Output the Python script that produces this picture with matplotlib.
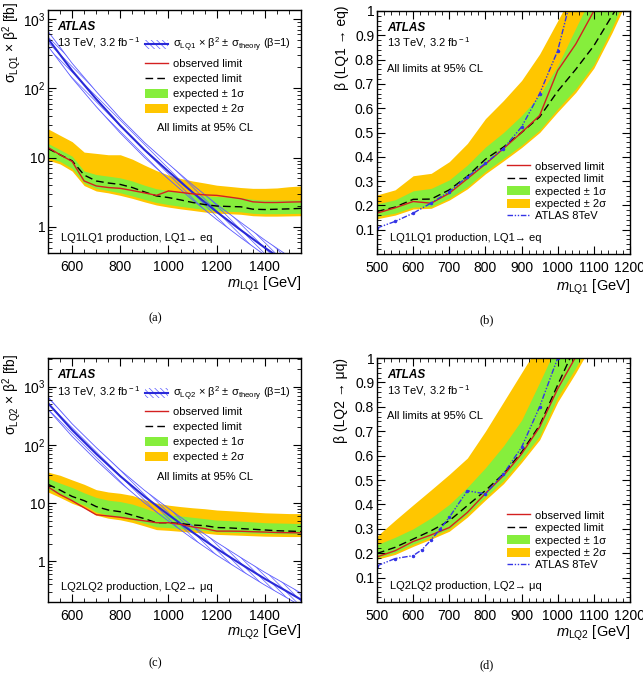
import matplotlib
matplotlib.use('Agg')
from matplotlib import pyplot as plt
from matplotlib.patches import Patch
from matplotlib.lines import Line2D
from matplotlib.ticker import FixedLocator, FixedFormatter, MultipleLocator, NullFormatter

# ---- data: LQ pair production limits (ATLAS 13 TeV, 3.2 fb-1) ----
m_xs = [500, 550, 600, 650, 700, 750, 800, 850, 900, 950, 1000, 1050,
        1100, 1150, 1200, 1250, 1300, 1350, 1400, 1450, 1500, 1550]

# theory cross section (fb), same for LQ1 and LQ2
m_th = [500, 600, 700, 800, 900, 1000, 1100, 1200, 1300, 1400, 1500, 1550]
xs_th = [520, 180, 70, 29, 13, 6.3, 3.15, 1.65, 0.9, 0.5, 0.29, 0.22]
xs_th_up = [665, 230, 90, 37, 16.6, 8.1, 4.05, 2.12, 1.16, 0.645, 0.375, 0.285]
xs_th_dn = [405, 140, 54.5, 22.6, 10.1, 4.9, 2.45, 1.28, 0.7, 0.39, 0.225, 0.17]

# (a) LQ1 -> eq
a_obs = [14, 11, 8.8, 4.6, 3.9, 3.7, 3.6, 3.35, 3.1, 2.85, 3.3, 3.15,
         3.0, 2.9, 2.85, 2.7, 2.55, 2.3, 2.25, 2.25, 2.28, 2.3]
a_exp = [13.5, 11, 9.0, 5.6, 4.6, 4.3, 4.1, 3.7, 3.2, 2.8, 2.65, 2.45,
         2.25, 2.1, 2.0, 1.97, 1.95, 1.8, 1.78, 1.8, 1.82, 1.85]
a_p1 = [16, 13, 10.5, 6.4, 5.7, 5.4, 5.1, 4.6, 4.0, 3.55, 3.35, 3.15,
        2.95, 2.8, 2.75, 2.7, 2.65, 2.5, 2.45, 2.45, 2.45, 2.45]
a_p2 = [26, 21, 17, 12, 11.5, 11, 11, 9.5, 7.8, 6.5, 5.6, 5.0,
        4.6, 4.3, 4.0, 3.85, 3.7, 3.6, 3.6, 3.65, 3.8, 3.9]
a_m1 = [10, 8.8, 7.0, 4.3, 3.6, 3.35, 3.1, 2.8, 2.5, 2.25, 2.1, 1.98,
        1.88, 1.78, 1.72, 1.68, 1.65, 1.57, 1.55, 1.55, 1.56, 1.57]
a_m2 = [9.2, 8.1, 6.4, 3.95, 3.3, 3.1, 2.85, 2.58, 2.3, 2.07, 1.93, 1.82,
        1.73, 1.64, 1.58, 1.55, 1.52, 1.45, 1.43, 1.43, 1.44, 1.45]

# (c) LQ2 -> muq
c_obs = [19, 14, 11, 8.3, 6.3, 6.0, 5.7, 5.3, 4.95, 4.6, 4.6, 4.3,
         3.9, 3.65, 3.3, 3.3, 3.28, 3.22, 3.18, 3.12, 3.1, 3.08]
c_exp = [21, 16.7, 13, 11, 8.7, 7.6, 7.1, 6.2, 5.4, 4.6, 4.6, 4.45,
         4.2, 4.1, 3.8, 3.75, 3.65, 3.55, 3.45, 3.35, 3.3, 3.25]
c_p1 = [26.5, 22, 18.5, 15, 12.5, 11.2, 10.6, 9.6, 8.2, 6.9, 6.3, 6.0,
        5.7, 5.4, 5.1, 5.0, 4.9, 4.75, 4.6, 4.55, 4.5, 4.45]
c_p2 = [34, 30, 25, 21, 17, 15.5, 14.7, 13.5, 11.5, 10, 9.2, 8.7,
        8.3, 8.0, 7.6, 7.4, 7.2, 7.0, 6.8, 6.7, 6.6, 6.6]
c_m1 = [17.5, 14, 11, 9.2, 7.0, 6.2, 5.8, 5.2, 4.5, 3.9, 3.8, 3.65,
        3.5, 3.4, 3.2, 3.15, 3.1, 3.05, 3.0, 2.97, 2.95, 2.95]
c_m2 = [15.5, 12.5, 9.9, 8.3, 6.2, 5.5, 5.15, 4.65, 4.05, 3.5, 3.4, 3.27,
        3.15, 3.05, 2.9, 2.85, 2.8, 2.75, 2.7, 2.68, 2.66, 2.66]

# (b) beta limits LQ1
m_beta = [500, 550, 600, 650, 700, 750, 800, 850, 900, 950, 1000, 1050, 1100, 1150, 1200]
b_obs = [0.168, 0.19, 0.216, 0.209, 0.25, 0.31, 0.37, 0.434, 0.50, 0.57, 0.755, 0.864, 1.0, 1.12, 1.25]
b_exp = [0.175, 0.193, 0.225, 0.226, 0.264, 0.32, 0.39, 0.44, 0.50, 0.564, 0.67, 0.76, 0.857, 0.98, 1.1]
b_p1 = [0.206, 0.223, 0.26, 0.27, 0.305, 0.366, 0.44, 0.50, 0.57, 0.653, 0.775, 0.93, 1.08, 1.2, 1.3]
b_p2 = [0.243, 0.264, 0.322, 0.332, 0.38, 0.455, 0.557, 0.632, 0.714, 0.823, 0.96, 1.1, 1.2, 1.3, 1.4]
b_m1 = [0.155, 0.168, 0.193, 0.195, 0.23, 0.277, 0.34, 0.393, 0.448, 0.51, 0.598, 0.68, 0.78, 0.93, 1.1]
b_m2 = [0.145, 0.16, 0.185, 0.188, 0.222, 0.268, 0.33, 0.383, 0.438, 0.50, 0.585, 0.665, 0.765, 0.91, 1.07]
m_8tev_b = [500, 550, 600, 650, 700, 750, 800, 850, 900, 950, 1000, 1050]
b_8tev = [0.107, 0.134, 0.168, 0.21, 0.257, 0.318, 0.373, 0.434, 0.523, 0.66, 0.837, 1.13]

# (d) beta limits LQ2
d_obs = [0.185, 0.21, 0.248, 0.275, 0.305, 0.367, 0.445, 0.518, 0.607, 0.717, 0.874, 1.005, 1.15, 1.3, 1.45]
d_exp = [0.199, 0.224, 0.258, 0.292, 0.333, 0.395, 0.457, 0.525, 0.614, 0.724, 0.89, 1.05, 1.2, 1.35, 1.5]
d_p1 = [0.235, 0.265, 0.30, 0.345, 0.40, 0.47, 0.55, 0.64, 0.745, 0.90, 1.06, 1.2, 1.35, 1.5, 1.65]
d_p2 = [0.27, 0.335, 0.398, 0.46, 0.523, 0.59, 0.70, 0.82, 0.94, 1.06, 1.2, 1.35, 1.5, 1.65, 1.8]
d_m1 = [0.182, 0.203, 0.237, 0.267, 0.30, 0.36, 0.43, 0.497, 0.586, 0.68, 0.84, 0.96, 1.1, 1.25, 1.4]
d_m2 = [0.175, 0.195, 0.228, 0.258, 0.29, 0.348, 0.418, 0.485, 0.572, 0.665, 0.82, 0.94, 1.07, 1.2, 1.35]
m_8tev_d = [500, 550, 600, 625, 650, 675, 700, 750, 800, 850, 900, 950, 1000]
d_8tev = [0.148, 0.178, 0.19, 0.215, 0.255, 0.30, 0.347, 0.456, 0.443, 0.525, 0.634, 0.80, 1.0]

# ---- style ----
GREEN = '#86ee3c'
YELLOW = '#ffc600'
RED = '#d42020'
BLUE = '#2a2ad8'
HATCH = '#5a5aff'
HATCH_PAT = '\\' * 6
W, H = 643.0, 677.0

plt.rcParams['font.family'] = ['Liberation Sans', 'DejaVu Sans']
plt.rcParams['mathtext.fontset'] = 'custom'
plt.rcParams['mathtext.rm'] = 'Liberation Sans'
plt.rcParams['mathtext.it'] = 'Liberation Sans:italic'
plt.rcParams['mathtext.bf'] = 'Liberation Sans:bold'
plt.rcParams['hatch.linewidth'] = 0.5
plt.rcParams['hatch.color'] = HATCH

fig = plt.figure(figsize=(6.43, 6.77), dpi=100)


def box(l, t, r, b):
    return [l / W, 1 - b / H, (r - l) / W, (b - t) / H]


def frame(ax):
    ax.tick_params(which='both', direction='in', top=True, right=True, labelsize=10)
    ax.tick_params(which='major', length=6, width=0.8)
    ax.tick_params(which='minor', length=3, width=0.6)
    ax.tick_params(axis='x', pad=5)
    ax.tick_params(axis='y', pad=2)
    for s in ax.spines.values():
        s.set_linewidth(1.0)


def band_handles():
    return [Line2D([], [], color=RED, lw=1),
            Line2D([], [], color='black', lw=1, dashes=(5.5, 3)),
            Patch(facecolor=GREEN, edgecolor='none'),
            Patch(facecolor=YELLOW, edgecolor='none')]


band_labels = ['observed limit', 'expected limit',
               'expected ± 1σ', 'expected ± 2σ']


def xs_panel(rect, obs, exp, p1, p2, m1, m2, lq, decay, ylim):
    ax = fig.add_axes(rect)
    ax.set_yscale('log')
    ax.fill_between(m_xs, m2, p2, color=YELLOW, lw=0)
    ax.fill_between(m_xs, m1, p1, color=GREEN, lw=0)
    ax.fill_between(m_th, xs_th_dn, xs_th_up, facecolor='none', edgecolor=HATCH,
                    hatch=HATCH_PAT, lw=0.6)
    ax.plot(m_th, xs_th, color=BLUE, lw=1.5)
    ax.plot(m_xs, exp, color='black', lw=1, dashes=(5.5, 3))
    ax.plot(m_xs, obs, color=RED, lw=1)
    ax.set_xlim(500, 1550)
    ax.set_ylim(*ylim)
    frame(ax)
    ax.xaxis.set_major_locator(FixedLocator([600, 800, 1000, 1200, 1400]))
    ax.xaxis.set_minor_locator(MultipleLocator(50))
    ax.yaxis.set_major_locator(FixedLocator([1, 10, 100, 1000]))
    ax.yaxis.set_major_formatter(FixedFormatter(['1', '10', '$10^{2}$', '$10^{3}$']))
    ax.yaxis.set_minor_locator(FixedLocator([k * 10.0 ** e for e in range(-1, 4) for k in range(2, 10)]))
    ax.yaxis.set_minor_formatter(NullFormatter())

    ax.text(0.036, 0.93, 'ATLAS', transform=ax.transAxes, fontsize=8.5,
            fontweight='bold', fontstyle='italic', va='center')
    ax.text(0.036, 0.864, r'13 TeV, 3.2 fb$^{\rm -1}$', transform=ax.transAxes,
            fontsize=8, va='center')
    ax.text(0.431, 0.514, 'All limits at 95% CL', transform=ax.transAxes,
            fontsize=8, va='center')
    ax.text(0.051, 0.062, lq + lq + ' production, ' + lq + '→ ' + decay,
            transform=ax.transAxes, fontsize=8, va='center')

    th = (Patch(facecolor='white', edgecolor=HATCH, hatch=HATCH_PAT, lw=0),
          Line2D([], [], color=BLUE, lw=1.5))
    handles = [th] + band_handles()
    labels = ['σ$_{\\rm %s}$ × β$^{2}$ ± σ$_{\\rm theory}$ (β=1)' % lq] + band_labels
    ax.legend(handles, labels, loc='upper left', bbox_to_anchor=(0.383, 0.892),
              frameon=False, fontsize=8, handlelength=2.1, handleheight=0.9,
              handletextpad=0.45, labelspacing=0.4, borderpad=0, borderaxespad=0)
    return ax


def beta_panel(rect, obs, exp, p1, p2, m1, m2, m8, b8, lq, decay, legtop):
    ax = fig.add_axes(rect)
    ax.fill_between(m_beta, m2, p2, color=YELLOW, lw=0)
    ax.fill_between(m_beta, m1, p1, color=GREEN, lw=0)
    ax.plot(m_beta, exp, color='black', lw=1, dashes=(5.5, 3))
    ax.plot(m_beta, obs, color=RED, lw=1)
    ax.plot(m8, b8, color='#3434e6', lw=1, ls=(0, (4, 1.2, 1, 1.2, 1, 1.2)),
            marker='o', ms=1.5)
    ax.set_xlim(500, 1200)
    ax.set_ylim(0, 1)
    frame(ax)
    ax.xaxis.set_major_locator(MultipleLocator(100))
    ax.xaxis.set_minor_locator(MultipleLocator(20))
    ax.yaxis.set_major_locator(FixedLocator([0.1, 0.2, 0.3, 0.4, 0.5, 0.6, 0.7, 0.8, 0.9, 1.0]))
    ax.yaxis.set_major_formatter(FixedFormatter(['0.1', '0.2', '0.3', '0.4', '0.5',
                                                 '0.6', '0.7', '0.8', '0.9', '1']))
    ax.yaxis.set_minor_locator(MultipleLocator(0.02))

    ax.text(0.04, 0.932, 'ATLAS', transform=ax.transAxes, fontsize=8.5,
            fontweight='bold', fontstyle='italic', va='center')
    ax.text(0.04, 0.868, r'13 TeV, 3.2 fb$^{\rm -1}$', transform=ax.transAxes,
            fontsize=8, va='center')
    ax.text(0.04, 0.762, 'All limits at 95% CL', transform=ax.transAxes,
            fontsize=8, va='center')
    ax.text(0.051, 0.064, lq + lq + ' production, ' + lq + '→ ' + decay,
            transform=ax.transAxes, fontsize=8, va='center')

    handles = band_handles() + [Line2D([], [], color='#3434e6', lw=1,
                                       ls=(0, (4, 1.2, 1, 1.2, 1, 1.2)))]
    labels = band_labels + ['ATLAS 8TeV']
    ax.legend(handles, labels, loc='upper left', bbox_to_anchor=(0.514, legtop),
              frameon=False, fontsize=8, handlelength=2.1, handleheight=0.9,
              handletextpad=0.45, labelspacing=0.18, borderpad=0, borderaxespad=0)
    return ax


ax_a = xs_panel(box(48, 10, 301, 253), a_obs, a_exp, a_p1, a_p2, a_m1, a_m2,
                'LQ1', 'eq', (0.42, 1350))
ax_b = beta_panel(box(377, 11, 630, 254), b_obs, b_exp, b_p1, b_p2, b_m1, b_m2,
                  m_8tev_b, b_8tev, 'LQ1', 'eq', 0.382)
ax_c = xs_panel(box(48, 358, 301, 602), c_obs, c_exp, c_p1, c_p2, c_m1, c_m2,
                'LQ2', 'μq', (0.2, 3100))
ax_d = beta_panel(box(377, 358, 630, 602), d_obs, d_exp, d_p1, d_p2, d_m1, d_m2,
                  m_8tev_d, d_8tev, 'LQ2', 'μq', 0.376)

# axis titles
fig.text(12 / W, 1 - 2 / H, 'σ$_{\\rm LQ1}$ × β$^{2}$ [fb]', rotation=90,
         ha='center', va='top', fontsize=10)
fig.text(342 / W, 1 - 5 / H, 'β (LQ1 → eq)', rotation=90,
         ha='center', va='top', fontsize=10)
fig.text(12 / W, 1 - 354 / H, 'σ$_{\\rm LQ2}$ × β$^{2}$ [fb]', rotation=90,
         ha='center', va='top', fontsize=10)
fig.text(341 / W, 1 - 358 / H, 'β (LQ2 → μq)', rotation=90,
         ha='center', va='top', fontsize=10)

fig.text(301 / W, 1 - 284 / H, r'$m_{\rm LQ1}$ [GeV]', ha='right', va='center', fontsize=10.5)
fig.text(630 / W, 1 - 287 / H, r'$m_{\rm LQ1}$ [GeV]', ha='right', va='center', fontsize=10.5)
fig.text(301 / W, 1 - 632 / H, r'$m_{\rm LQ2}$ [GeV]', ha='right', va='center', fontsize=10.5)
fig.text(630 / W, 1 - 633 / H, r'$m_{\rm LQ2}$ [GeV]', ha='right', va='center', fontsize=10.5)

# captions
for x, y, s in [(155, 318, '(a)'), (487, 320, '(b)'), (155, 663, '(c)'), (487, 665, '(d)')]:
    fig.text(x / W, 1 - y / H, s, ha='center', va='center', fontsize=9,
             family='Liberation Serif')

fig.savefig('out.png', dpi=100)
